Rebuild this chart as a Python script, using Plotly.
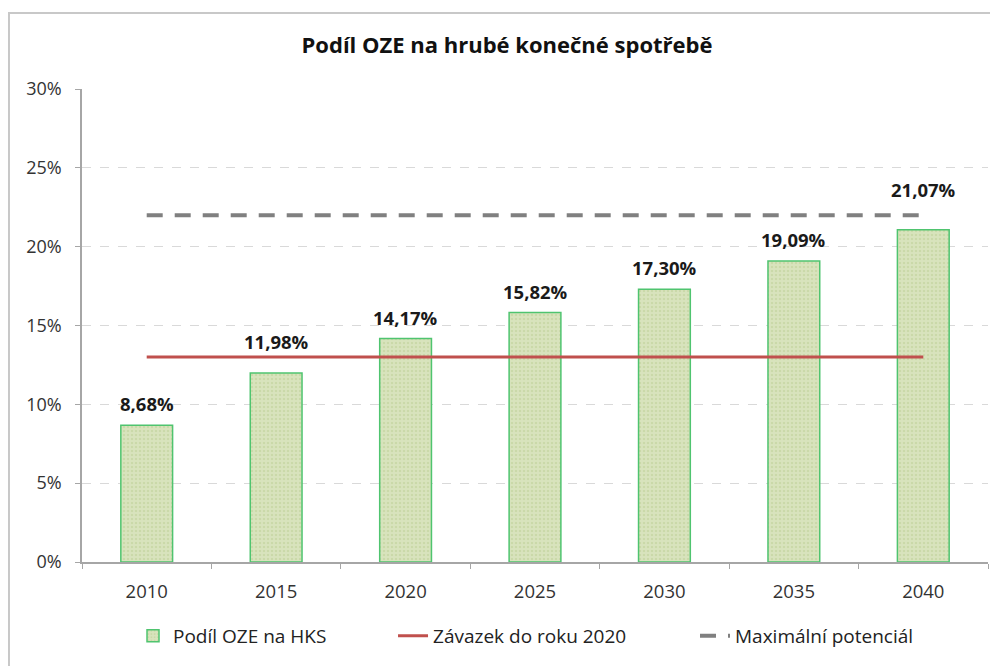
import plotly.graph_objects as go

years = ["2010", "2015", "2020", "2025", "2030", "2035", "2040"]
share = [0.0868, 0.1198, 0.1417, 0.1582, 0.1730, 0.1909, 0.2107]
commitment = [0.13] * 7
potential = [0.22] * 7

# extra vertical offset (px) of value labels that sit clear of the lines
label_lift = [0, 10, 0, 0, 0, 0, 19]

FONT = "Open Sans"
LEG_FONT = dict(family=FONT, size=19, color="#222222")

fig = go.Figure()
fig.add_trace(go.Bar(
    x=years, y=share, name="Podíl OZE na HKS", legend="legend",
    width=0.4,
    marker=dict(color="#d3e0b2", line=dict(color="#4fc46f", width=1.5),
                pattern=dict(shape=".", fgcolor="#bccd94", bgcolor="#d8e3bd", size=4, solidity=0.3)),
))
fig.add_trace(go.Scatter(
    x=years, y=commitment, name="Závazek do roku 2020", mode="lines", legend="legend2",
    line=dict(color="#c0504d", width=3),
))
fig.add_trace(go.Scatter(
    x=years, y=potential, name="Maximální potenciál", mode="lines", legend="legend3",
    line=dict(color="#808080", width=4, dash="16px,12px"),
))

for i, v in enumerate(share):
    fig.add_annotation(x=i, y=v, text=f"{v*100:.2f}%".replace(".", ","), showarrow=False,
                       yanchor="bottom", yshift=7 + label_lift[i],
                       font=dict(family=FONT, size=18.5, color="#1a1a1a", weight="bold"))

fig.update_layout(
    width=998, height=666,
    margin=dict(l=74, r=18, t=81, b=112, autoexpand=False),
    paper_bgcolor="white", plot_bgcolor="white",
    font=dict(family=FONT, size=18, color="#333333"),
    title=dict(text="<b>Podíl OZE na hrubé konečné spotřebě</b>", x=0.5, xanchor="center",
               y=1 - 37 / 666, yanchor="middle", font=dict(family=FONT, size=22, color="#111111")),
    showlegend=True,
    legend=dict(orientation="h", x=0.0563, xanchor="left", y=-0.156, yanchor="middle", font=LEG_FONT),
    legend2=dict(orientation="h", x=0.3433, xanchor="left", y=-0.156, yanchor="middle", font=LEG_FONT),
    legend3=dict(orientation="h", x=0.6766, xanchor="left", y=-0.156, yanchor="middle", font=LEG_FONT),
    separators=", ",
    shapes=[dict(type="rect", xref="paper", yref="paper", x0=-0.0806, x1=1.05, y0=-0.3, y1=1.1607,
                 line=dict(color="#c8c8c8", width=2), layer="below")],
)
fig.update_xaxes(type="category", range=[-0.5, len(years) - 0.5], showline=True,
                 linecolor="#a6a6a6", linewidth=1.5,
                 ticks="outside", tickson="boundaries", ticklen=5, tickcolor="#a6a6a6",
                 showgrid=False, tickangle=0, ticklabelstandoff=12,
                 tickfont=dict(family=FONT, size=18.5, color="#333333"))
fig.update_yaxes(range=[0, 0.3], dtick=0.05, tickformat=".0%", showline=True,
                 linecolor="#a6a6a6", linewidth=1.5, ticks="outside", ticklen=5,
                 tickcolor="#a6a6a6", showgrid=True, gridcolor="#d9d9d9", griddash="dash",
                 gridwidth=1, zeroline=False, ticklabelstandoff=10,
                 tickfont=dict(family=FONT, size=18, color="#333333"))

fig.write_html("out.html")
